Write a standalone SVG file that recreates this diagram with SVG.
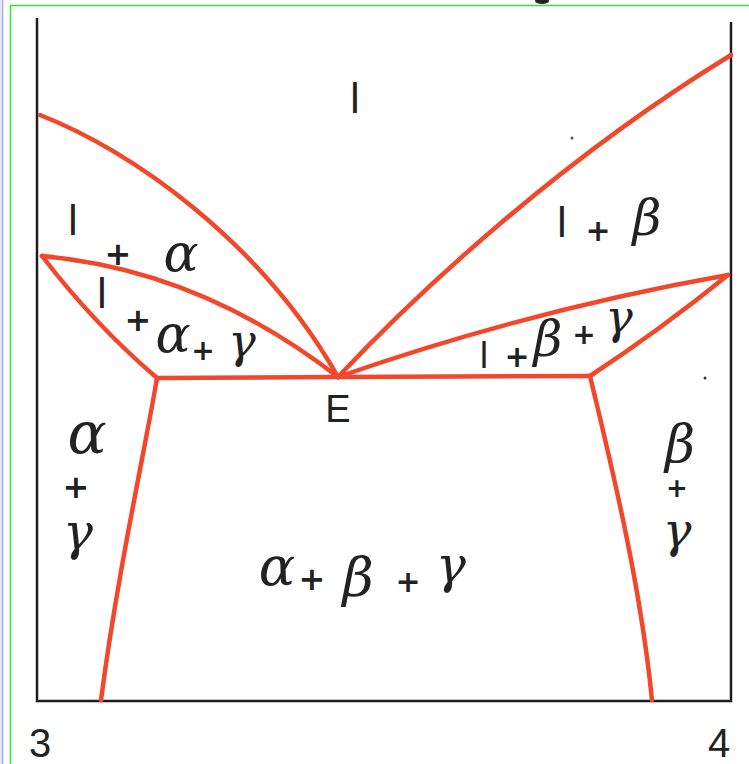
<svg xmlns="http://www.w3.org/2000/svg" width="749" height="764" viewBox="0 0 749 764">
<style>
.red{fill:none;stroke:#f2472a;stroke-width:4.5;stroke-linecap:round;stroke-linejoin:round}
.ax{fill:none;stroke:#1e1e1e;stroke-width:2.5}
.s{font-family:"Liberation Sans","DejaVu Sans",sans-serif;fill:#222;text-anchor:middle}
.p{font-family:"DejaVu Sans",sans-serif;fill:#222;text-anchor:middle;font-weight:bold}
.g{font-family:"DejaVu Serif","Liberation Serif",serif;font-style:italic;fill:#222;text-anchor:middle}
</style>
<rect x="0" y="0" width="749" height="764" fill="#ffffff"/>
<rect x="0" y="0" width="4" height="764" fill="#e4e4f7"/>
<line x1="2.5" y1="0" x2="2.5" y2="764" stroke="#a8a8e6" stroke-width="1"/>
<rect x="10.5" y="5.5" width="800" height="800" fill="none" stroke="#3ddc3d" stroke-width="1.5"/>
<ellipse cx="542" cy="1" rx="7" ry="3" fill="#222"/>
<g id="axes">
<path class="ax" d="M37,18 V701 H731 V22"/>
</g>
<g id="connectors">
<path class="red" d="M40,115 C130,150 260,240 338,377"/>
<path class="red" d="M42,256 Q200,270 338,377"/>
<path class="red" d="M42,256 Q95,325 157,378"/>
<path class="red" d="M157,378 L338,377 L590,376"/>
<path class="red" d="M157,378 C145,450 118,570 101,700"/>
<path class="red" d="M590,376 C610,460 640,580 652,700"/>
<path class="red" d="M338,377 C420,290 560,160 731,55"/>
<path class="red" d="M338,377 Q530,310 728,275"/>
<path class="red" d="M728,275 Q660,330 590,376"/>
</g>
<circle cx="572" cy="138" r="1.5" fill="#555"/>
<circle cx="705" cy="378" r="1.5" fill="#333"/>
<g id="region-l"><text class="s" x="355" y="113" font-size="42">l</text></g>
<g id="region-l-alpha">
<text class="s" x="73" y="235" font-size="42">l</text>
<text class="p" x="118" y="265" font-size="32">+</text>
<text class="g" x="181" y="271" font-size="52">α</text>
</g>
<g id="region-l-alpha-gamma">
<text class="s" x="102" y="308" font-size="42">l</text>
<text class="p" x="138" y="331" font-size="32">+</text>
<text class="g" x="173" y="352" font-size="52">α</text>
<text class="p" x="203" y="360" font-size="28">+</text>
<text class="g" x="242" y="357" font-size="46">γ</text>
</g>
<g id="region-l-beta">
<text class="s" x="562" y="237" font-size="42">l</text>
<text class="p" x="598" y="241" font-size="30">+</text>
<text class="g" x="647" y="235" font-size="50">β</text>
</g>
<g id="region-l-beta-gamma">
<text class="s" x="484" y="368" font-size="36">l</text>
<text class="p" x="517" y="367" font-size="30">+</text>
<text class="g" x="548" y="356" font-size="50">β</text>
<text class="p" x="584" y="344" font-size="28">+</text>
<text class="g" x="619" y="333" font-size="46">γ</text>
</g>
<g id="point-E"><text class="s" x="338" y="422" font-size="38">E</text></g>
<g id="region-alpha-gamma">
<text class="g" x="87" y="453" font-size="58">α</text>
<text class="p" x="76" y="498" font-size="32">+</text>
<text class="g" x="78" y="549" font-size="50">γ</text>
</g>
<g id="region-beta-gamma">
<text class="g" x="680" y="462" font-size="52">β</text>
<text class="p" x="677" y="497" font-size="26">+</text>
<text class="g" x="677" y="547" font-size="48">γ</text>
</g>
<g id="region-alpha-beta-gamma">
<text class="g" x="277" y="585" font-size="54">α</text>
<text class="p" x="312" y="590" font-size="32">+</text>
<text class="g" x="358" y="596" font-size="54">β</text>
<text class="p" x="408" y="592" font-size="30">+</text>
<text class="g" x="451" y="582" font-size="50">γ</text>
</g>
<g id="labels">
<text class="s" x="40" y="757" font-size="40">3</text>
<text class="s" x="719" y="757" font-size="40">4</text>
</g>
</svg>
